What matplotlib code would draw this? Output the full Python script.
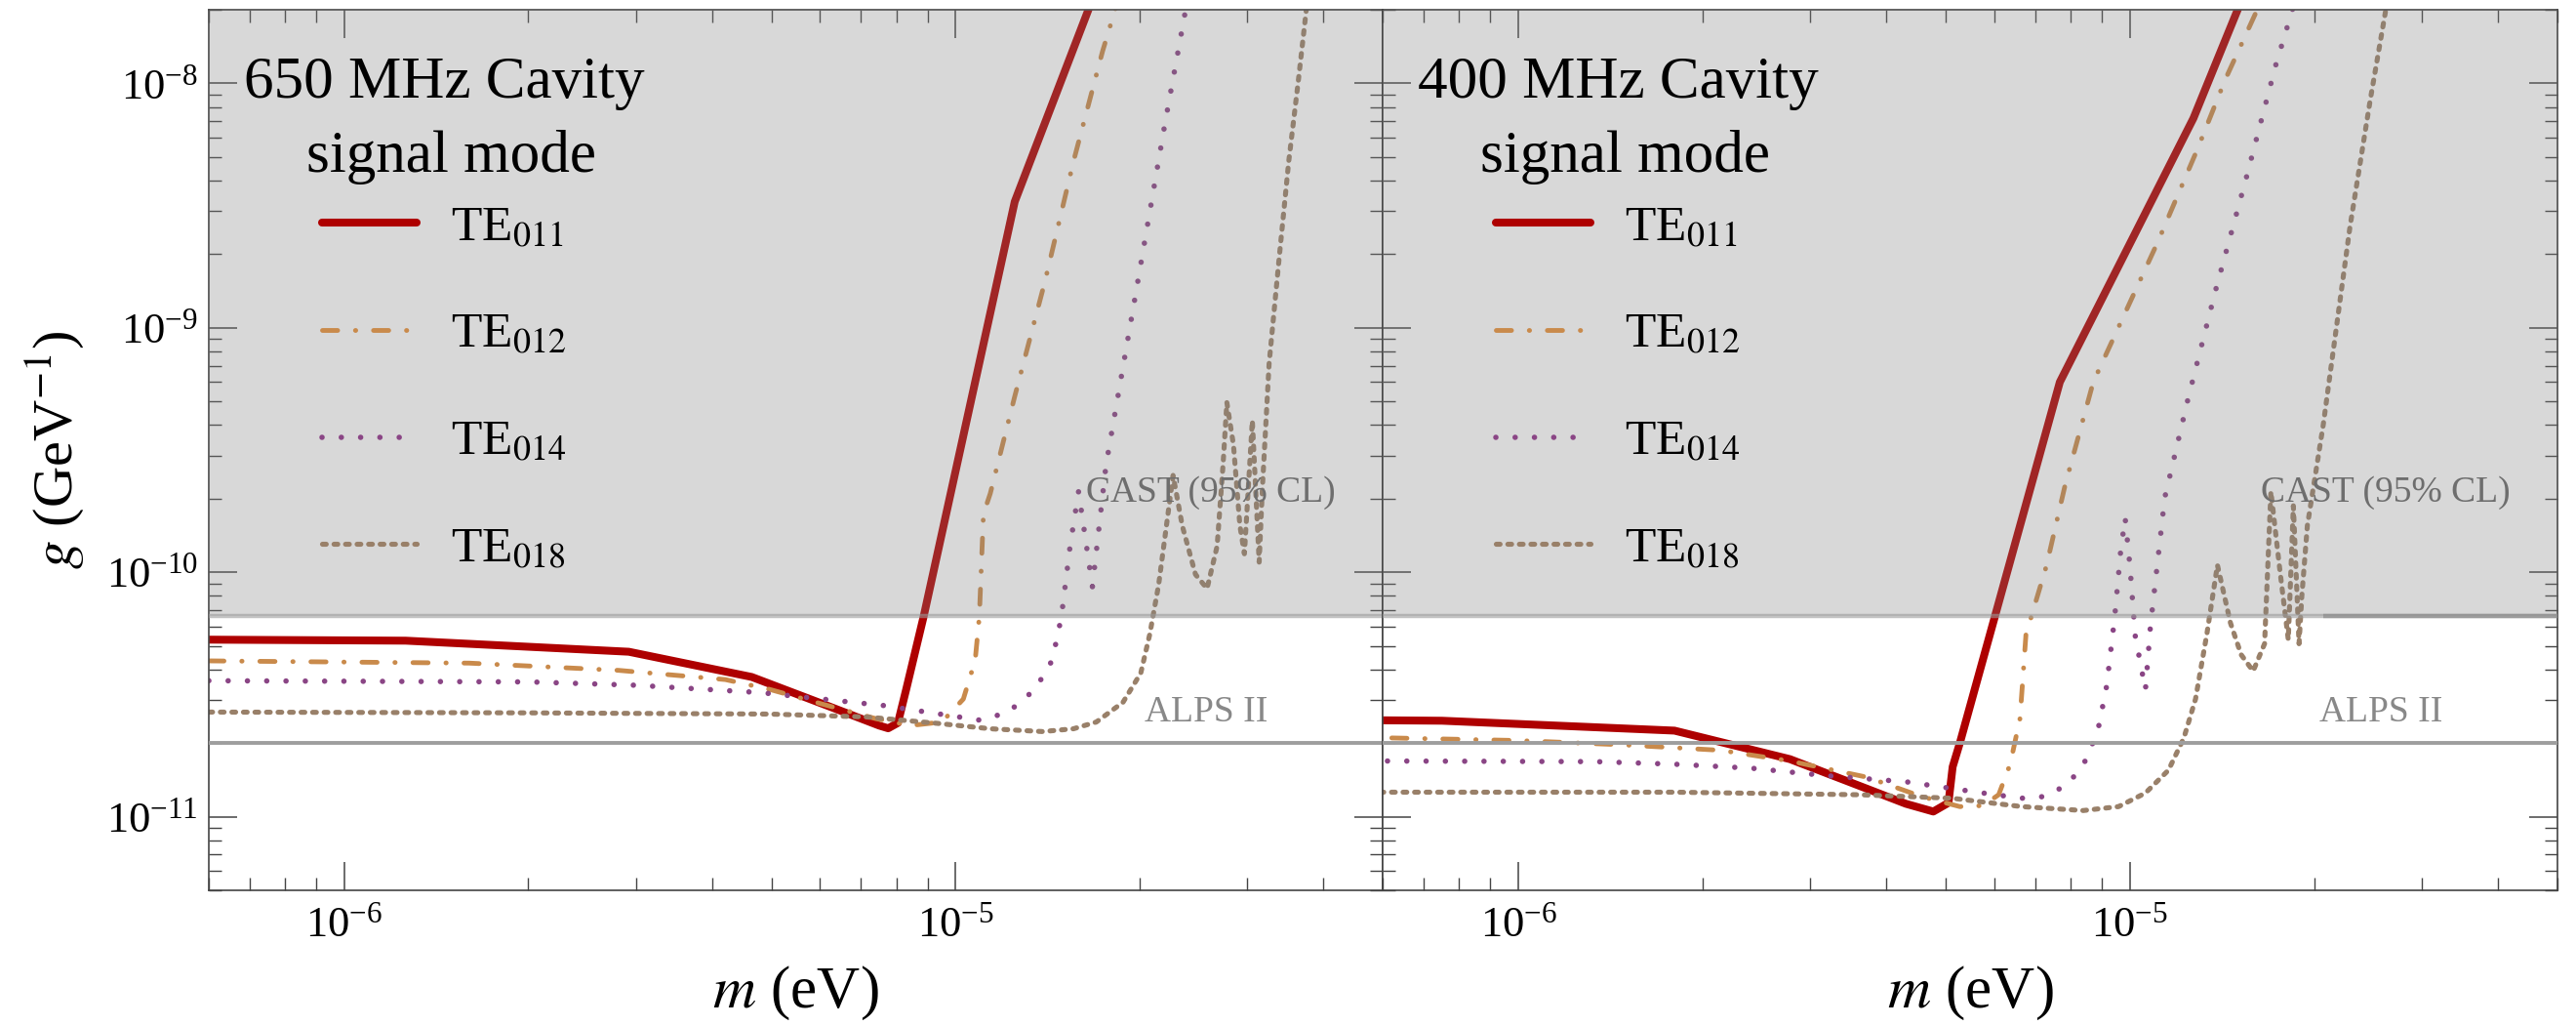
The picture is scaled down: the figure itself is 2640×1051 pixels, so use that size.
import numpy as np
import matplotlib
matplotlib.use("Agg")
import matplotlib.pyplot as plt
from matplotlib.ticker import LogLocator, NullFormatter

# ---- data: mass m (eV), coupling g (GeV^-1) ----
# 650 MHz cavity
m650_te011 = [6.0e-7, 1.26e-6, 2.92e-6, 4.64e-6, 6.3e-6, 7.5e-6, 7.76e-6, 8.05e-6, 8.3e-6,
              8.87e-6, 1.25e-5, 1.7e-5]
g650_te011 = [5.3e-11, 5.25e-11, 4.73e-11, 3.73e-11, 2.79e-11, 2.36e-11, 2.3e-11, 2.42e-11, 3.3e-11,
              6.6e-11, 3.28e-9, 2.43e-8]
m650_te012 = [6.0e-7, 1.6e-6, 2.81e-6, 4.2e-6, 4.96e-6, 6.05e-6, 7.4e-6, 8.43e-6, 9.5e-6, 1.03e-5,
              1.077e-5, 1.094e-5, 1.111e-5, 1.14e-5, 1.25e-5, 1.40e-5, 1.56e-5, 1.74e-5, 1.9e-5]
g650_te012 = [4.34e-11, 4.25e-11, 3.97e-11, 3.64e-11, 3.32e-11, 2.89e-11, 2.52e-11, 2.36e-11, 2.44e-11,
              3.03e-11, 4.37e-11, 6.6e-11, 1.73e-10, 2.1e-10, 5.24e-10, 1.54e-9, 4.8e-9, 1.35e-8, 2.8e-8]
m650_te014 = [6.0e-7, 2.01e-6, 3.0e-6, 4.79e-6, 7.63e-6, 1.1e-5, 1.22e-5, 1.35e-5, 1.44e-5, 1.49e-5,
              1.54e-5, 1.59e-5, 1.675e-5, 1.763e-5, 1.97e-5, 2.2e-5, 2.38e-5, 2.5e-5]
g650_te014 = [3.6e-11, 3.56e-11, 3.45e-11, 3.22e-11, 2.85e-11, 2.48e-11, 2.68e-11, 3.32e-11, 4.37e-11,
              6.55e-11, 1.28e-10, 2.14e-10, 8.73e-11, 2.74e-10, 1.36e-9, 6.78e-9, 2.0e-8, 4.0e-8]
m650_te018 = [6.0e-7, 2.01e-6, 4.96e-6, 7.14e-6, 9.33e-6, 1.14e-5, 1.39e-5, 1.56e-5, 1.70e-5, 1.88e-5,
              2.01e-5, 2.08e-5, 2.15e-5, 2.27e-5, 2.35e-5, 2.47e-5, 2.58e-5, 2.68e-5, 2.74e-5, 2.78e-5,
              2.85e-5, 2.92e-5, 2.97e-5, 3.06e-5, 3.14e-5, 3.18e-5, 3.26e-5, 3.38e-5, 3.51e-5, 3.64e-5,
              3.75e-5, 3.9e-5]
g650_te018 = [2.68e-11, 2.66e-11, 2.63e-11, 2.56e-11, 2.41e-11, 2.29e-11, 2.23e-11, 2.29e-11, 2.44e-11,
              2.94e-11, 3.87e-11, 5.6e-11, 8.9e-11, 2.49e-10, 1.55e-10, 9.8e-11, 8.57e-11, 1.28e-10,
              2.74e-10, 4.95e-10, 3.32e-10, 1.55e-10, 1.19e-10, 4.18e-10, 1.10e-10, 2.27e-10, 7.16e-10,
              1.85e-9, 4.8e-9, 1.03e-8, 2.0e-8, 4.0e-8]

# 400 MHz cavity
m400_te011 = [5.94e-7, 7.5e-7, 1.80e-6, 2.78e-6, 3.72e-6, 4.3e-6, 4.77e-6, 5.05e-6, 5.13e-6, 5.27e-6,
              7.68e-6, 1.27e-5, 1.5e-5, 1.6e-5]
g400_te011 = [2.48e-11, 2.47e-11, 2.25e-11, 1.72e-11, 1.30e-11, 1.13e-11, 1.05e-11, 1.14e-11, 1.6e-11,
              2.0e-11, 6.0e-10, 7.2e-9, 2.0e-8, 2.96e-8]
m400_te012 = [6.21e-7, 1.0e-6, 1.47e-6, 2.14e-6, 2.78e-6, 3.72e-6, 4.56e-6, 5.27e-6, 5.75e-6, 6.1e-6,
              6.37e-6, 6.61e-6, 6.76e-6, 7.3e-6, 7.83e-6, 8.71e-6, 1.11e-5, 1.29e-5, 1.43e-5, 1.61e-5,
              1.7e-5]
g400_te012 = [2.1e-11, 2.05e-11, 1.97e-11, 1.87e-11, 1.69e-11, 1.45e-11, 1.21e-11, 1.10e-11, 1.11e-11,
              1.23e-11, 1.64e-11, 2.52e-11, 5.56e-11, 1.06e-10, 2.26e-10, 6.0e-10, 2.24e-9, 5.4e-9,
              1.03e-8, 1.97e-8, 2.6e-8]
m400_te014 = [6.11e-7, 1.34e-6, 1.80e-6, 2.40e-6, 3.21e-6, 4.30e-6, 5.75e-6, 6.65e-6, 7.26e-6, 7.93e-6,
              8.52e-6, 8.90e-6, 9.16e-6, 9.44e-6, 9.65e-6, 9.82e-6, 1.0e-5, 1.02e-5, 1.06e-5, 1.08e-5,
              1.14e-5, 1.245e-5, 1.38e-5, 1.55e-5, 1.73e-5, 1.84e-5, 1.95e-5]
g400_te014 = [1.69e-11, 1.68e-11, 1.64e-11, 1.58e-11, 1.47e-11, 1.39e-11, 1.25e-11, 1.19e-11, 1.21e-11,
              1.36e-11, 1.74e-11, 2.37e-11, 3.43e-11, 6.53e-11, 1.2e-10, 1.67e-10, 1.06e-10, 5.5e-11,
              3.3e-11, 6.0e-11, 2.02e-10, 5.15e-10, 1.42e-9, 4.12e-9, 1.18e-8, 1.97e-8, 3.2e-8]
m400_te018 = [5.94e-7, 1.8e-6, 3.61e-6, 5.12e-6, 6.65e-6, 8.39e-6, 9.58e-6, 1.06e-5, 1.156e-5, 1.225e-5,
              1.28e-5, 1.336e-5, 1.39e-5, 1.46e-5, 1.52e-5, 1.59e-5, 1.66e-5, 1.70e-5, 1.76e-5, 1.815e-5,
              1.85e-5, 1.89e-5, 1.91e-5, 1.95e-5, 2.07e-5, 2.29e-5, 2.47e-5, 2.62e-5, 2.7e-5]
g400_te018 = [1.26e-11, 1.26e-11, 1.23e-11, 1.19e-11, 1.10e-11, 1.06e-11, 1.10e-11, 1.25e-11, 1.55e-11,
              2.1e-11, 3.03e-11, 5.6e-11, 1.07e-10, 6.2e-11, 4.6e-11, 3.94e-11, 5.1e-11, 2.14e-10,
              1.0e-10, 5.3e-11, 1.87e-10, 5.1e-11, 8.0e-11, 1.55e-10, 4.0e-10, 2.6e-9, 8.5e-9, 2.0e-8, 3.1e-8]

mode_labels = ['TE$_{011}$', 'TE$_{012}$', 'TE$_{014}$', 'TE$_{018}$']
panel_titles = ['650 MHz Cavity', '400 MHz Cavity']
cast_limit = 6.6e-11
alps_limit = 2.0e-11
cast_dark_from = [None, 2.07e-5]   # darker CAST edge only on the right panel

xlim = (6e-7, 5e-5)
ylim = (5e-12, 2e-8)

# dash lengths are in units of line width (round caps add half a width at each end)
styles = [
    dict(color='#ae0000', lw=5.8, ls='-', solid_capstyle='round'),
    dict(color='#c98a4b', lw=3.5, ls=(0, (3.2, 3.75, 0.06, 3.75)), dash_capstyle='round'),
    dict(color='#8a4585', lw=4.0, ls=(0, (0.01, 3.55)), dash_capstyle='round'),
    dict(color='#998069', lw=3.7, ls=(0, (0.75, 1.55)), dash_capstyle='round'),
]

plt.rcParams['font.family'] = ['Liberation Serif', 'DejaVu Serif']
plt.rcParams['mathtext.fontset'] = 'stix'

W, H = 2640, 1051
fig = plt.figure(figsize=(W / 100, H / 100), dpi=100)
ax1 = fig.add_axes([214 / W, 139 / H, 1203 / W, 902 / H])
ax2 = fig.add_axes([1417 / W, 139 / H, 1204 / W, 902 / H], sharey=ax1)

data = [
    [(m650_te011, g650_te011), (m650_te012, g650_te012), (m650_te014, g650_te014), (m650_te018, g650_te018)],
    [(m400_te011, g400_te011), (m400_te012, g400_te012), (m400_te014, g400_te014), (m400_te018, g400_te018)],
]

for ax, curves, title, dark in zip([ax1, ax2], data, panel_titles, cast_dark_from):
    for (m, g), lab, st in zip(curves, mode_labels, styles):
        ax.plot(m, g, label=lab, zorder=2, **st)

    ax.set_xscale('log')
    ax.set_yscale('log')
    ax.set_xlim(*xlim)
    ax.set_ylim(*ylim)

    # excluded region above CAST drawn over the curves, lines on the edges
    ax.axhspan(cast_limit, ylim[1], color='#808080', alpha=0.3, lw=0, zorder=3)
    ax.axhline(cast_limit, color='#9a9a9a', alpha=0.6, lw=3.2, zorder=4)
    if dark:
        ax.hlines(cast_limit, dark, xlim[1], color='#8c8c8c', alpha=0.7, lw=3.2, zorder=4)
    ax.axhline(alps_limit, color='#9e9e9e', lw=2.8, zorder=4)

    ax.text(0.96, 0.452, 'CAST (95% CL)', transform=ax.transAxes, ha='right', va='center',
            fontsize=27, color='#6e6e6e', zorder=5)
    ax.text(0.797, 0.202, 'ALPS II', transform=ax.transAxes, ha='left', va='center',
            fontsize=27, color='#888888', zorder=5)

    ax.text(0.2003, 0.9007, title, transform=ax.transAxes, ha='center', va='baseline',
            fontsize=44, zorder=6)
    ax.text(0.2066, 0.816, 'signal mode', transform=ax.transAxes, ha='center', va='baseline',
            fontsize=44, zorder=6)

    leg = ax.legend(loc='upper left', bbox_to_anchor=(0.0964, 0.778), frameon=False, fontsize=37,
                    handlelength=1.88, handletextpad=0.68, labelspacing=1.22, borderpad=0,
                    borderaxespad=0)
    leg.set_zorder(7)

    ax.xaxis.set_major_locator(LogLocator(base=10, numticks=12))
    ax.xaxis.set_minor_locator(LogLocator(base=10, subs=np.arange(2, 10), numticks=30))
    ax.xaxis.set_minor_formatter(NullFormatter())
    ax.yaxis.set_major_locator(LogLocator(base=10, numticks=12))
    ax.yaxis.set_minor_locator(LogLocator(base=10, subs=np.arange(2, 10), numticks=30))
    ax.yaxis.set_minor_formatter(NullFormatter())

    ax.tick_params(which='both', direction='in', top=True, right=True, color='#444444')
    ax.tick_params(which='major', length=21, width=1.1, labelsize=32)
    ax.tick_params(which='minor', length=9.5, width=1.0)
    ax.tick_params(axis='x', pad=12)
    ax.tick_params(axis='y', pad=8)
    for s in ax.spines.values():
        s.set_color('#444444')
        s.set_linewidth(1.2)

    ax.set_xlabel('$m$ (eV)', fontsize=44, labelpad=14)

ax1.set_ylabel('$g$ (GeV$^{-1}$)', fontsize=42, labelpad=14)
ax2.tick_params(labelleft=False)

fig.savefig('out.png', dpi=100)
